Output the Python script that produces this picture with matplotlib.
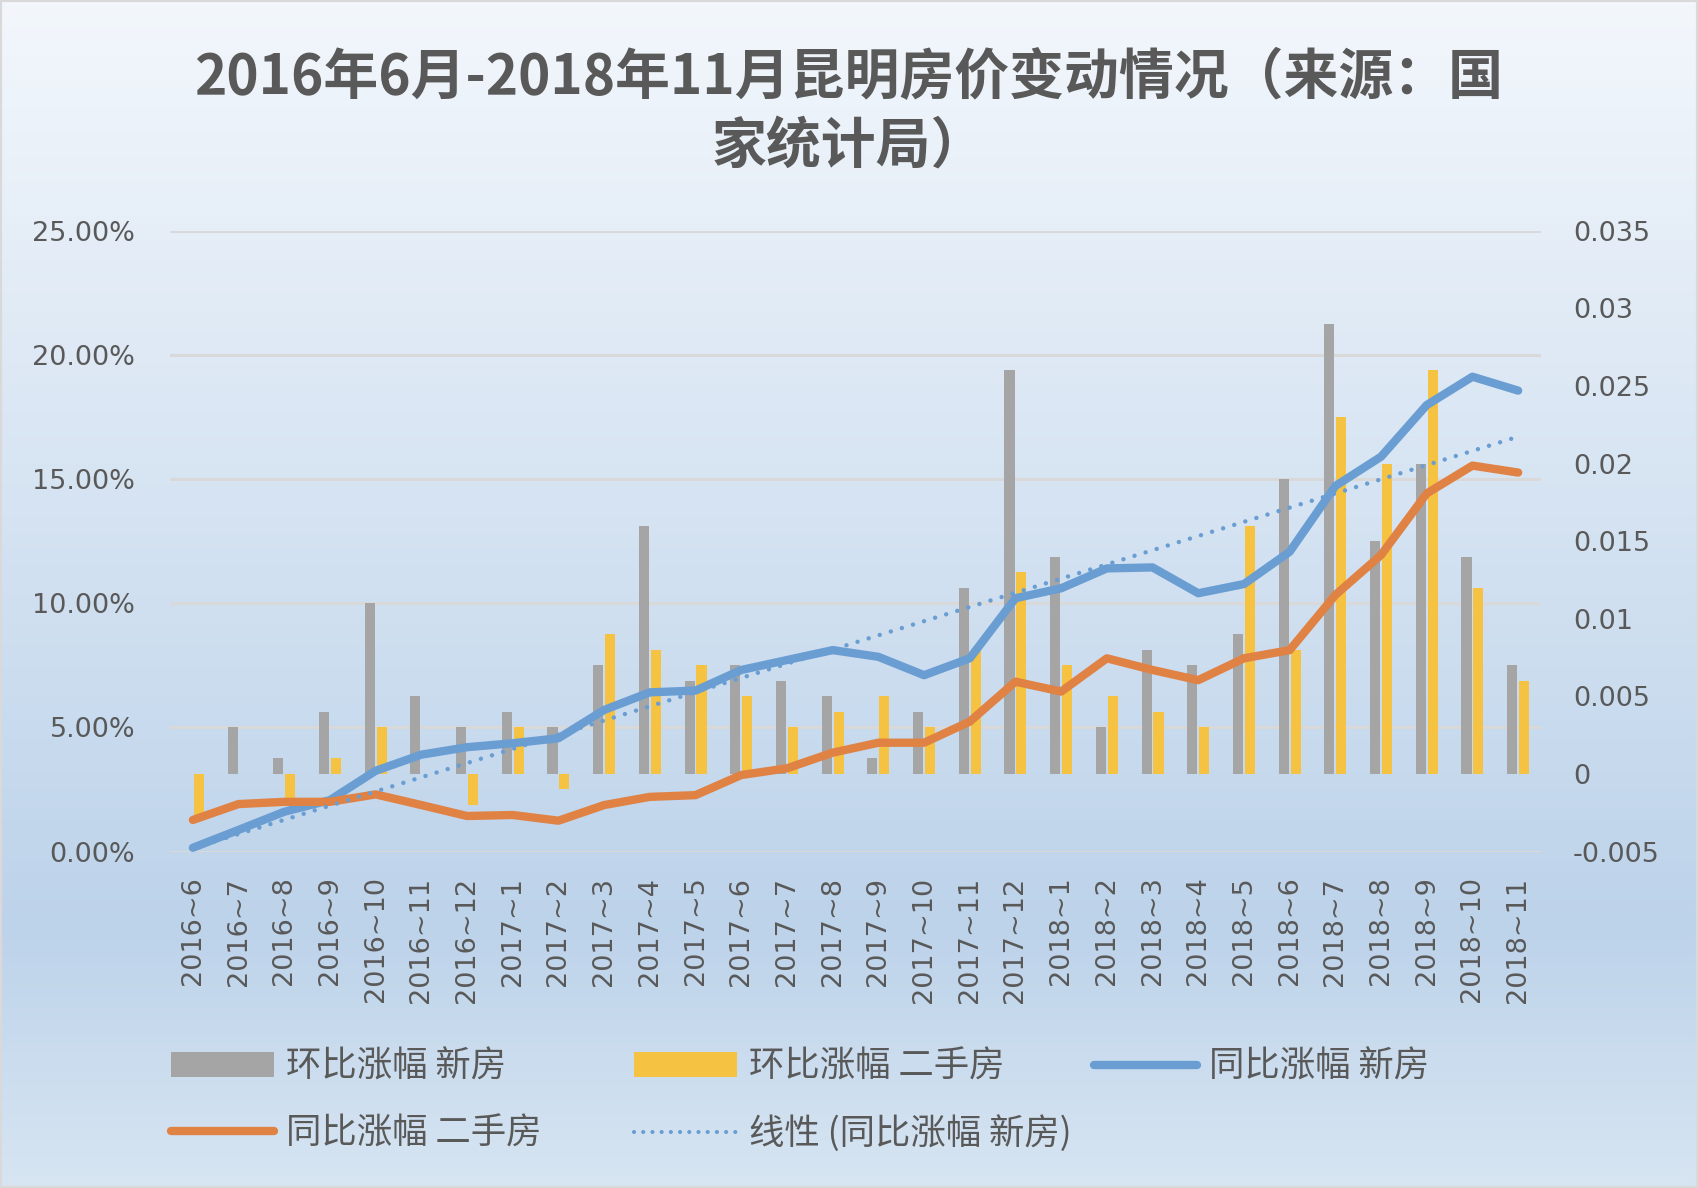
import numpy as np
import matplotlib
matplotlib.use('Agg')
import matplotlib.pyplot as plt
from matplotlib.colors import LinearSegmentedColormap
from matplotlib.patches import Patch, Rectangle
from matplotlib.lines import Line2D
from matplotlib.ticker import FuncFormatter

plt.rcParams['font.family'] = ['Noto Sans CJK SC', 'DejaVu Sans']

# ---- data ----
months = ['2016~6', '2016~7', '2016~8', '2016~9', '2016~10', '2016~11', '2016~12',
          '2017~1', '2017~2', '2017~3', '2017~4', '2017~5', '2017~6', '2017~7',
          '2017~8', '2017~9', '2017~10', '2017~11', '2017~12', '2018~1', '2018~2',
          '2018~3', '2018~4', '2018~5', '2018~6', '2018~7', '2018~8', '2018~9',
          '2018~10', '2018~11']

# 环比 (month on month), right axis
mom_new = [0, 0.003, 0.001, 0.004, 0.011, 0.005, 0.003, 0.004, 0.003, 0.007,
           0.016, 0.006, 0.007, 0.006, 0.005, 0.001, 0.004, 0.012, 0.026, 0.014,
           0.003, 0.008, 0.007, 0.009, 0.019, 0.029, 0.015, 0.020, 0.014, 0.007]
mom_used = [-0.003, 0, -0.002, 0.001, 0.003, 0, -0.002, 0.003, -0.001, 0.009,
            0.008, 0.007, 0.005, 0.003, 0.004, 0.005, 0.003, 0.008, 0.013, 0.007,
            0.005, 0.004, 0.003, 0.016, 0.008, 0.023, 0.020, 0.026, 0.012, 0.006]

# 同比 (year on year, %), left axis
yoy_new = [0.15, 0.87, 1.6, 2.07, 3.25, 3.9, 4.2, 4.36, 4.56, 5.7, 6.41, 6.48,
           7.31, 7.71, 8.11, 7.84, 7.1, 7.78, 10.2, 10.6, 11.4, 11.44, 10.4, 10.77,
           12.07, 14.72, 15.9, 17.98, 19.12, 18.56]
yoy_used = [1.27, 1.91, 2.0, 2.0, 2.3, 1.87, 1.43, 1.47, 1.24, 1.87, 2.2, 2.27,
            3.08, 3.35, 3.98, 4.38, 4.38, 5.23, 6.84, 6.44, 7.78, 7.31, 6.9, 7.78,
            8.11, 10.33, 11.94, 14.42, 15.54, 15.26]

left_ticks = [0, 0.05, 0.10, 0.15, 0.20, 0.25]
right_ticks = [-0.005, 0, 0.005, 0.01, 0.015, 0.02, 0.025, 0.03, 0.035]

c_gray = '#a5a5a5'
c_yellow = '#f5c242'
c_blue = '#6a9ed3'
c_orange = '#e08244'
c_text = '#595959'
c_grid = '#d9d9d9'

W, H = 1698, 1188
fig = plt.figure(figsize=(W / 100, H / 100), dpi=100)

# gradient background
bg = fig.add_axes([0, 0, 1, 1], zorder=-10)
cmap = LinearSegmentedColormap.from_list(
    'bg', [(0, '#f3f7fc'), (0.78, '#bdd3ea'), (1.0, '#d7e5f2')])
bg.imshow(np.linspace(0, 1, 256).reshape(-1, 1), aspect='auto', cmap=cmap,
          extent=[0, 1, 0, 1], origin='upper')
bg.axis('off')
fig.patches.append(Rectangle((0, 0), 1, 1, transform=fig.transFigure, fill=False,
                             edgecolor=c_grid, linewidth=3))

x = np.arange(len(months))
yoy_new = np.array(yoy_new) / 100
yoy_used = np.array(yoy_used) / 100

ax_b = fig.add_axes([170 / W, 1 - 851.5 / H, 1371 / W, 620.8 / H])
ax_b.patch.set_visible(False)
ax_l = ax_b.twinx()

rmin, rmax = -0.005, 0.035
lmin, lmax = 0, 0.25
ax_b.set_ylim(rmin, rmax)
ax_l.set_ylim(lmin, lmax)
ax_b.set_xlim(-0.5, len(months) - 0.5)

# gridlines follow the left axis, drawn behind the bars
for t in left_ticks:
    ax_b.axhline(rmin + (t - lmin) / (lmax - lmin) * (rmax - rmin),
                 color=c_grid, lw=2.2, zorder=0)

bw = 0.22
ax_b.bar(x - 0.13, mom_new, width=bw, color=c_gray, zorder=2)
ax_b.bar(x + 0.13, mom_used, width=bw, color=c_yellow, zorder=2)

ax_l.plot(x, yoy_new, color=c_blue, lw=6, solid_capstyle='round',
          solid_joinstyle='round', zorder=3)
ax_l.plot(x, yoy_used, color=c_orange, lw=6, solid_capstyle='round',
          solid_joinstyle='round', zorder=3)
k, b = np.polyfit(x, yoy_new, 1)
ax_l.plot(x, k * x + b, color=c_blue, lw=3.2, linestyle=(0, (0.01, 2.6)),
          dash_capstyle='round', zorder=4)

for a in (ax_b, ax_l):
    for s in a.spines.values():
        s.set_visible(False)

ax_b.yaxis.tick_right()
ax_l.yaxis.tick_left()
ax_b.set_yticks(right_ticks)
ax_b.yaxis.set_major_formatter(FuncFormatter(lambda v, p: f'{round(v, 4):g}'))
ax_l.set_yticks(left_ticks)
ax_l.yaxis.set_major_formatter(FuncFormatter(lambda v, p: f'{v * 100:.2f}%'))
ax_b.tick_params(axis='y', length=0, pad=23, labelsize=19.5, labelcolor=c_text)
ax_l.tick_params(axis='y', length=0, pad=25, labelsize=19.5, labelcolor=c_text)
for lab in ax_b.get_yticklabels() + ax_l.get_yticklabels():
    lab.set_family('DejaVu Sans')

ax_b.set_xticks(x)
ax_b.set_xticklabels(months, rotation=90, family='DejaVu Sans')
ax_b.tick_params(axis='x', length=0, pad=18, labelsize=19.5, labelcolor=c_text)

fig.text(0.5, 1 - 112 / H, '2016年6月-2018年11月昆明房价变动情况（来源：国\n家统计局）',
         ha='center', va='center', fontsize=39.5, color=c_text, linespacing=1.27,
         fontweight='bold')

# legend, laid out in rows like the original
h_gray = Patch(facecolor=c_gray)
h_yellow = Patch(facecolor=c_yellow)
h_blue = Line2D([], [], color=c_blue, lw=6, solid_capstyle='round')
h_orange = Line2D([], [], color=c_orange, lw=6, solid_capstyle='round')
h_trend = Line2D([], [], color=c_blue, lw=3, linestyle=(0, (0.01, 2.2)),
                 dash_capstyle='round')

cols = [
    (171, [h_gray, h_orange], ['环比涨幅 新房', '同比涨幅 二手房']),
    (634, [h_yellow, h_trend], ['环比涨幅 二手房', '线性 (同比涨幅 新房)']),
    (1094, [h_blue], ['同比涨幅 新房']),
]
for xpos, hs, ls in cols:
    leg = fig.legend(hs, ls, loc='upper left', bbox_to_anchor=(xpos / W, 1 - 1049 / H),
                     frameon=False, fontsize=25.5, labelcolor=c_text, handlelength=2.9,
                     handletextpad=0.35, borderpad=0, borderaxespad=0,
                     labelspacing=0.85)

fig.savefig('out.png', dpi=100)
